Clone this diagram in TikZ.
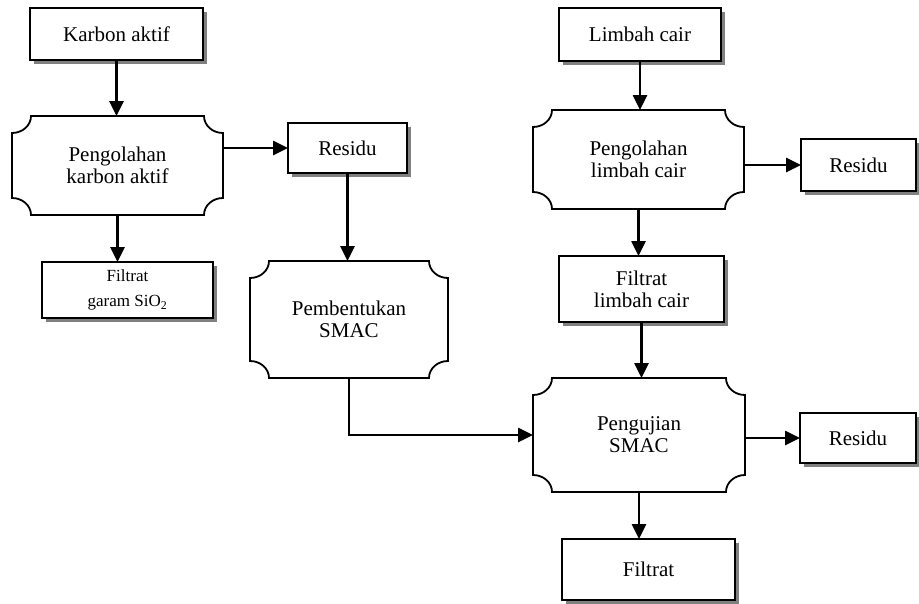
\documentclass[tikz,border=0pt]{standalone}
\usepackage{fontspec}
\setmainfont{Liberation Serif}
\usetikzlibrary{arrows.meta,shadows,calc}
\newcommand\prx{19pt}
\newcommand\pry{17pt}
\newcommand\plaquedraw[1]{%
  \draw[outline] ($(#1.north west)+(\prx,0)$) -- ($(#1.north east)+(-\prx,0)$)
    arc[start angle=180,end angle=270,x radius=\prx,y radius=\pry]
    -- ($(#1.south east)+(0,\pry)$)
    arc[start angle=90,end angle=180,x radius=\prx,y radius=\pry]
    -- ($(#1.south west)+(\prx,0)$)
    arc[start angle=0,end angle=90,x radius=\prx,y radius=\pry]
    -- ($(#1.north west)+(0,-\pry)$)
    arc[start angle=270,end angle=360,x radius=\prx,y radius=\pry]
    -- cycle;}
\tikzset{
  outline/.style={line width=1.8pt,line join=miter},
  txt/.style={font=\fontsize{21}{22}\selectfont, align=center, inner sep=0pt, outer sep=0pt},
  shbox/.style={txt, draw, line width=1.8pt, fill=white,
    drop shadow={shadow xshift=4pt,shadow yshift=-4pt,fill=black!50,opacity=1}},
  plq/.style={txt},
  conn/.style={line width=2.6pt,-{Triangle[length=15pt,width=14pt]}}
}
\begin{document}
\begin{tikzpicture}[x=1pt,y=1pt]
\useasboundingbox (0,0) rectangle (919,-603);
% boxes
\node[shbox, minimum width=173pt, minimum height=52pt] (ka) at (116.5,-34) {Karbon aktif};
\node[shbox, minimum width=171pt, minimum height=56pt, font=\fontsize{17}{25}\selectfont] (fg) at (127.5,-290) {\raisebox{-3pt}{Filtrat}\\\raisebox{-3pt}{garam SiO\textsubscript{2}}};
\node[shbox, minimum width=119pt, minimum height=50pt] (r1) at (347.5,-148) {Residu};
\node[shbox, minimum width=162pt, minimum height=53pt] (lc) at (640,-34.5) {Limbah cair};
\node[shbox, minimum width=165pt, minimum height=66pt] (flc) at (641.5,-289) {Filtrat\\limbah cair};
\node[shbox, minimum width=115pt, minimum height=52pt] (r2) at (858.5,-165) {Residu};
\node[shbox, minimum width=116pt, minimum height=50pt] (r3) at (858,-438) {Residu};
\node[shbox, minimum width=173pt, minimum height=61pt] (f) at (648.5,-569.5) {Filtrat};
% plaques
\node[plq, minimum width=211pt, minimum height=99pt] (p1) at (117.5,-165.5) {Pengolahan\\karbon aktif};
\node[plq, minimum width=211pt, minimum height=99pt] (p2) at (638.5,-159.5) {Pengolahan\\limbah cair};
\node[plq, minimum width=198pt, minimum height=117pt] (pb) at (349,-319.5) {Pembentukan\\SMAC};
\node[plq, minimum width=212pt, minimum height=114pt] (pu) at (639,-435) {Pengujian\\SMAC};
\plaquedraw{p1}
\plaquedraw{p2}
\plaquedraw{pb}
\plaquedraw{pu}
% connectors
\draw[conn] (ka.south) -- (ka.south |- p1.north);
\draw[conn] (r1.west -| p1.east) -- (r1.west);
\draw[conn] (p1.south) -- (p1.south |- fg.north);
\draw[conn] (r1.south) -- (r1.south |- pb.north);
\draw[conn] (pb.south) |- (pu.west);
\draw[conn] (lc.south) -- (lc.south |- p2.north);
\draw[conn] (r2.west -| p2.east) -- (r2.west);
\draw[conn] (p2.south) -- (p2.south |- flc.north);
\draw[conn] (flc.south) -- (flc.south |- pu.north);
\draw[conn] (r3.west -| pu.east) -- (r3.west);
\draw[conn] (pu.south) -- (pu.south |- f.north);
\end{tikzpicture}
\end{document}
